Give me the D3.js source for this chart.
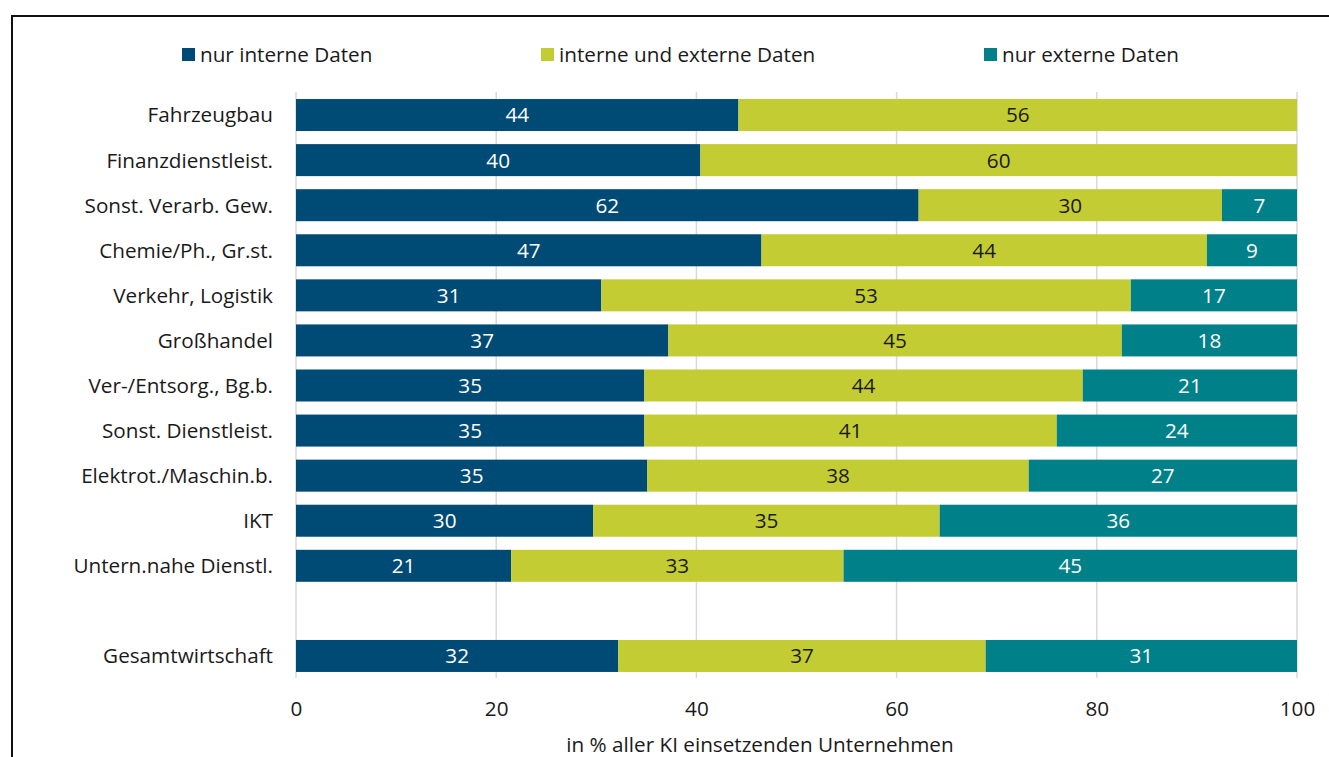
<!DOCTYPE html>
<html><head><meta charset="utf-8">
<script src="https://cdn.jsdelivr.net/npm/d3@7"></script>
<style>body{margin:0;background:#fff;} svg{display:block;font-family:"Open Sans",sans-serif;}</style>
</head><body>
<svg id="c" width="1329" height="757"></svg>
<script>
const categories = ["Fahrzeugbau","Finanzdienstleist.","Sonst. Verarb. Gew.","Chemie/Ph., Gr.st.","Verkehr, Logistik","Großhandel","Ver-/Entsorg., Bg.b.","Sonst. Dienstleist.","Elektrot./Maschin.b.","IKT","Untern.nahe Dienstl.","","Gesamtwirtschaft"];
const nurIntern   = [44.2,40.4,62.2,46.5,30.5,37.2,34.8,34.8,35.1,29.7,21.5,null,32.2];
const internExtern= [55.8,59.6,30.3,44.5,52.9,45.3,43.8,41.2,38.1,34.6,33.2,null,36.7];
const nurExtern   = [0,0,7.5,9.0,16.6,17.5,21.4,24.0,26.8,35.7,45.4,null,31.1];
const labIntern   = [44,40,62,47,31,37,35,35,35,30,21,null,32];
const labIE       = [56,60,30,44,53,45,44,41,38,35,33,null,37];
const labExtern   = [null,null,7,9,17,18,21,24,27,36,45,null,31];
const seriesNames = ["nur interne Daten","interne und externe Daten","nur externe Daten"];
const colors = ["#004b75","#c3cc32","#00818a"];
const textColors = ["#ffffff","#1a1a1a","#ffffff"];
const xTicks = [0,20,40,60,80,100];

const FS = 20.7;
const svg = d3.select("#c");
svg.append("path").attr("d","M12,760 L12,16 L1332,16").attr("fill","none").attr("stroke","#111").attr("stroke-width",2);

const x = d3.scaleLinear().domain([0,100]).range([296,1297]);
const y = d3.scaleBand().domain(categories.map((c,i)=>i)).range([92.5,678.5]).paddingInner(0.29).paddingOuter(0.145);

// gridlines
svg.append("g").selectAll("line").data(xTicks).join("line")
  .attr("x1",d=>x(d)).attr("x2",d=>x(d)).attr("y1",92).attr("y2",678)
  .attr("stroke","#d9d9d9").attr("stroke-width",1.5);

const series = [nurIntern, internExtern, nurExtern];
const labels = [labIntern, labIE, labExtern];
const rows = categories.map((c,i)=>({i, vals: series.map(s=>s[i]), labs: labels.map(l=>l[i])})).filter(r=>r.vals[0]!==null);

const g = svg.append("g");
rows.forEach(r=>{
  let acc=0;
  r.vals.forEach((v,k)=>{
    if(!v) return;
    const x0=x(acc), x1=x(Math.min(acc+v,100));
    g.append("rect").attr("x",x0).attr("y",y(r.i)).attr("width",x1-x0).attr("height",y.bandwidth()).attr("fill",colors[k]);
    if(r.labs[k]!==null){
      g.append("text").attr("x",(x0+x1)/2).attr("y",y(r.i)+y.bandwidth()/2).attr("dy","0.36em")
       .attr("text-anchor","middle").attr("font-size",FS).attr("fill",textColors[k]).text(r.labs[k]);
    }
    acc+=v;
  });
});

// category labels
svg.append("g").selectAll("text").data(categories.map((c,i)=>({c,i})).filter(d=>d.c)).join("text")
  .attr("x",273).attr("y",d=>y(d.i)+y.bandwidth()/2).attr("dy","0.36em").attr("text-anchor","end")
  .attr("font-size",FS).attr("fill","#1a1a1a").text(d=>d.c);

// x axis ticks
const ax = svg.append("g").attr("transform","translate(0,716)").call(d3.axisBottom(x).tickValues(xTicks).tickSize(0).tickPadding(0));
ax.select(".domain").remove();
ax.selectAll("text").attr("font-size",FS).attr("fill","#1a1a1a").attr("font-family","Open Sans").attr("dy","0em");

svg.append("text").attr("x",760).attr("y",752).attr("text-anchor","middle").attr("font-size",FS).attr("fill","#1a1a1a")
  .text("in % aller KI einsetzenden Unternehmen");

// legend
const legX = [182,541,984];
seriesNames.forEach((n,k)=>{
  svg.append("rect").attr("x",legX[k]).attr("y",48).attr("width",13).attr("height",13).attr("fill",colors[k]);
  svg.append("text").attr("x",legX[k]+18).attr("y",55).attr("dy","0.36em").attr("font-size",FS).attr("fill","#1a1a1a").text(n);
});
</script>
</body></html>
